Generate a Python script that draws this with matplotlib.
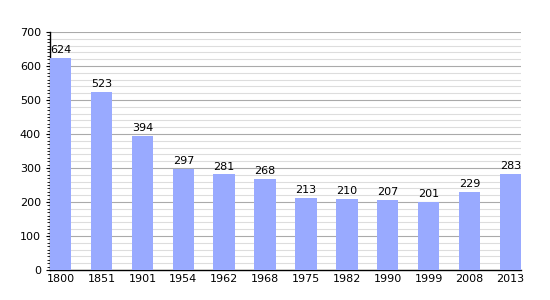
import numpy as np
import matplotlib.pyplot as plt
from matplotlib.ticker import MultipleLocator

years = ['1800', '1851', '1901', '1954', '1962', '1968', '1975', '1982', '1990', '1999', '2008', '2013']
population = [624, 523, 394, 297, 281, 268, 213, 210, 207, 201, 229, 283]

fig = plt.figure(figsize=(5.5, 3.0), dpi=100)
ax = fig.add_axes([50 / 550, 30 / 300, 471 / 550, 238 / 300])

x = np.arange(len(years))
ax.bar(x, population, width=0.525, color='#99aaff', zorder=3)
for xi, v in zip(x, population):
    ax.text(xi, v + 8, str(v), ha='center', va='bottom', fontsize=8, zorder=4)

ax.set_xlim(-0.2625, 11.2625)
ax.set_ylim(0, 700)
ax.set_xticks(x)
ax.set_xticklabels(years)
ax.yaxis.set_major_locator(MultipleLocator(100))
ax.yaxis.set_minor_locator(MultipleLocator(10))

# grille : lignes fines tous les 20, plus foncées tous les 100
for yv in np.arange(20, 701, 20):
    if yv % 100 == 0:
        ax.axhline(yv, color='#aaaaaa', linewidth=0.8, zorder=1)
    else:
        ax.axhline(yv, color='#dddddd', linewidth=0.8, zorder=1)

ax.tick_params(axis='both', labelsize=8, length=3, width=0.8)
ax.tick_params(axis='y', which='minor', length=2, width=0.6)
ax.tick_params(axis='x', length=0, pad=3)
for s in ['top', 'right']:
    ax.spines[s].set_visible(False)
ax.spines['left'].set_linewidth(1.0)
ax.spines['bottom'].set_linewidth(1.0)

fig.savefig('out.png')
